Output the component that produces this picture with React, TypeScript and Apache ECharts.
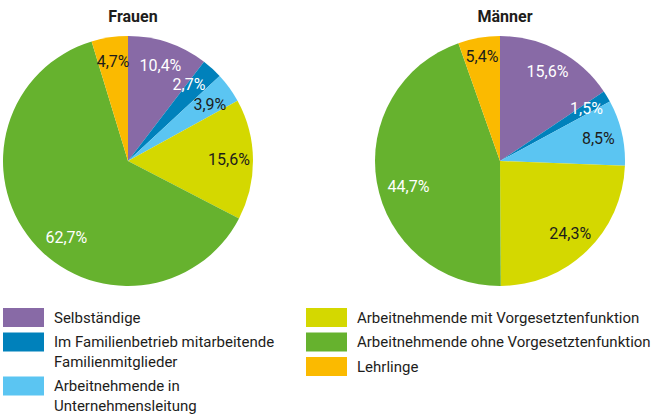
import React, { useEffect, useRef } from "react";
import * as echarts from "echarts";

const categories = [
  "Selbständige",
  "Im Familienbetrieb mitarbeitende Familienmitglieder",
  "Arbeitnehmende in Unternehmensleitung",
  "Arbeitnehmende mit Vorgesetztenfunktion",
  "Arbeitnehmende ohne Vorgesetztenfunktion",
  "Lehrlinge",
];
const legendLines = [
  ["Selbständige"],
  ["Im Familienbetrieb mitarbeitende", "Familienmitglieder"],
  ["Arbeitnehmende in", "Unternehmensleitung"],
  ["Arbeitnehmende mit Vorgesetztenfunktion"],
  ["Arbeitnehmende ohne Vorgesetztenfunktion"],
  ["Lehrlinge"],
];
const colors = ["#886aa6", "#0081bb", "#5bc5f2", "#d4d800", "#66b22e", "#fbba00"];
const labelColors = ["#ffffff", "#ffffff", "#1d1d1b", "#1d1d1b", "#ffffff", "#1d1d1b"];
const labelColorsMen = ["#ffffff", "#ffffff", "#1d1d1b", "#1d1d1b", "#ffffff", "#1d1d1b"];
const frauen = [10.4, 2.7, 3.9, 15.6, 62.7, 4.7];
const maenner = [15.6, 1.5, 8.5, 24.3, 44.7, 5.4];
const titles = ["Frauen", "Männer"];

const FONT = "Roboto, 'Liberation Sans', sans-serif";
const TEXT = "#1d1d1b";

export default function App() {
  const ref = useRef<HTMLDivElement>(null);
  useEffect(() => {
    if (!ref.current) return;
    const chart = echarts.init(ref.current, null, { renderer: "svg" });
    const R = 125;
    const centers = [
      [128, 161],
      [500, 161],
    ];
    const datasets = [frauen, maenner];
    const lblCols = [labelColors, labelColorsMen];
    // small nudges of some labels, as placed in the reference
    const nudges: Record<string, { dx: number; dy: number }>[] = [
      { "1": { dx: -7, dy: -2 }, "2": { dx: 0, dy: 3 }, "4": { dx: 16, dy: 12 } },
      { "4": { dx: 8, dy: 8 }, "5": { dx: -1, dy: -5 } },
    ];
    const series: any[] = [];
    datasets.forEach((vals, si) => {
      series.push({
        type: "pie",
        name: titles[si],
        center: centers[si],
        radius: [0, R],
        startAngle: 90,
        clockwise: true,
        silent: true,
        label: { show: false },
        labelLine: { show: false },
        data: vals.map((v, i) => ({
          name: categories[i],
          value: v,
          itemStyle: { color: colors[i] },
        })),
      });
      series.push({
        type: "pie",
        name: titles[si] + " labels",
        center: centers[si],
        radius: [71, R],
        startAngle: 90,
        clockwise: true,
        silent: true,
        avoidLabelOverlap: false,
        z: 5,
        itemStyle: { color: "transparent" },
        labelLine: { show: false },
        labelLayout: (p: any) => {
          const n = nudges[si][String(p.dataIndex)];
          return n ? { dx: n.dx, dy: n.dy, hideOverlap: false } : { hideOverlap: false };
        },
        label: {
          show: true,
          position: "inside",
          fontFamily: FONT,
          fontSize: 16,
          formatter: (p: any) => `${Number(p.value).toFixed(1).replace(".", ",")}%`,
        },
        data: vals.map((v, i) => ({
          name: categories[i],
          value: v,
          label: { color: lblCols[si][i] },
        })),
      });
    });

    const graphics: any[] = [];
    const colX = [3, 306];
    const colItems = [
      [0, 1, 2],
      [3, 4, 5],
    ];
    const lineH = 19.5;
    colItems.forEach((items, c) => {
      let y = 308;
      items.forEach((idx) => {
        graphics.push({
          type: "rect",
          left: colX[c],
          top: y,
          shape: { width: 41, height: 19 },
          style: { fill: colors[idx] },
        });
        graphics.push({
          type: "text",
          x: colX[c] + 51,
          y: y,
          style: {
            text: legendLines[idx].join("\n"),
            font: `15px ${FONT}`,
            fill: TEXT,
            lineHeight: lineH,
            verticalAlign: "top",
            align: "left",
          },
        });
        y += legendLines[idx].length * lineH + 5;
      });
    });

    chart.setOption({
      animation: false,
      title: titles.map((t, i) => ({
        text: t,
        left: centers[i][0],
        top: 3,
        textAlign: "center",
        textStyle: {
          fontFamily: FONT,
          fontWeight: "bold",
          fontSize: 16,
          color: TEXT,
        },
      })),
      series,
      graphic: graphics,
    });
    return () => chart.dispose();
  }, []);
  return (
    <div
      ref={ref}
      style={{ position: "absolute", left: 0, top: 0, width: 655, height: 414, background: "#fff" }}
    />
  );
}
